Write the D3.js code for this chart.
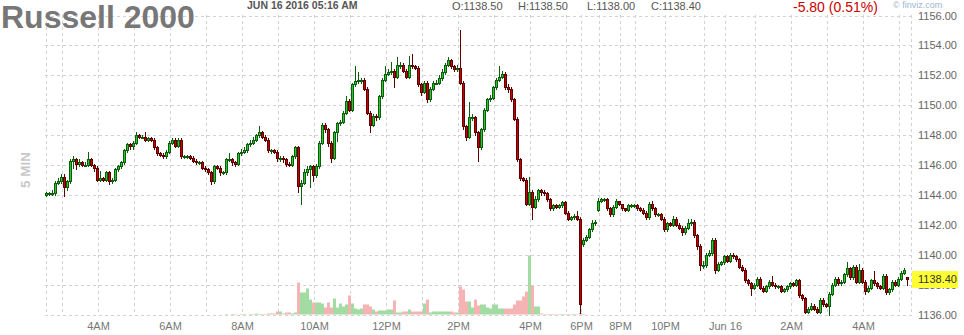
<!DOCTYPE html>
<html>
<head>
<meta charset="utf-8">
<script src="https://cdn.jsdelivr.net/npm/d3@7"></script>
<style>
  body { margin: 0; background: #fff; }
  svg { display: block; font-family: "Liberation Sans", Arial, sans-serif; }
</style>
</head>
<body>
<div id="chart"></div>
<script>
// 5 min bars, Russell 2000 futures, Jun 15 ~2:30AM -> Jun 16 5:15AM
var closes = [
  1144.1,1144.1,1144.1,1144.8,1144.9,1145.2,1144.5,1144.9,1146.3,1146.4,1146.1,1146.2,
  1146.0,1146.0,1146.4,1146.0,1145.8,1145.0,1145.1,1145.0,1145.5,1144.9,1145.0,1145.7,
  1145.9,1146.2,1147.0,1147.4,1147.3,1147.5,1148.0,1147.9,1147.9,1147.7,1147.8,1147.7,
  1147.2,1146.8,1146.7,1146.6,1146.9,1147.5,1147.7,1147.3,1147.7,1146.6,1146.6,1146.6,
  1146.5,1146.3,1146.2,1146.2,1145.8,1145.7,1145.5,1144.9,1145.9,1145.8,1145.5,1145.5,
  1146.4,1146.4,1146.2,1146.1,1146.8,1146.9,1147.0,1147.4,1147.5,1147.7,1148.0,1148.2,
  1147.9,1147.7,1147.0,1147.0,1146.9,1146.5,1146.5,1146.4,1146.1,1146.0,1146.6,1147.2,
  1144.6,1144.8,1145.5,1145.7,1145.9,1145.3,1145.9,1147.5,1148.7,1148.4,1147.5,1146.5,
  1148.2,1148.8,1148.9,1149.5,1150.3,1149.7,1151.4,1151.6,1151.7,1151.7,1151.1,1149.5,
  1148.7,1149.3,1149.2,1150.6,1151.7,1152.1,1152.2,1152.3,1151.9,1152.7,1152.7,1152.3,
  1151.9,1152.7,1152.6,1152.5,1151.4,1150.9,1151.5,1150.4,1151.1,1151.5,1151.5,1151.8,
  1152.2,1152.7,1153.0,1152.6,1152.4,1152.5,1151.5,1148.6,1147.9,1149.2,1149.2,1148.2,
  1147.2,1148.4,1149.7,1150.4,1150.5,1151.2,1151.7,1151.9,1152.1,1151.2,1151.1,1150.4,
  1149.1,1146.4,1145.1,1145.0,1143.4,1144.2,1143.2,1143.7,1144.3,1144.2,1144.1,1143.7,
  1143.1,1143.3,1143.2,1143.3,1143.5,1142.8,1142.4,1142.5,1142.6,1142.4,1136.7,1141.0,
  1141.2,1141.7,1142.1,1142.2,1143.6,1143.7,1143.7,1143.1,1142.7,1143.2,1143.6,1143.4,
  1143.1,1143.0,1143.3,1143.3,1143.3,1143.1,1143.0,1142.8,1142.5,1143.4,1143.1,1142.7,
  1142.7,1142.4,1141.7,1142.1,1142.0,1142.4,1142.0,1141.8,1141.5,1141.8,1142.1,1142.2,
  1141.3,1140.6,1139.3,1139.3,1140.0,1140.1,1141.0,1139.0,1139.4,1139.5,1139.9,1139.6,
  1140.0,1139.9,1139.7,1139.2,1139.0,1138.3,1138.1,1137.8,1138.0,1138.4,1137.8,1137.6,
  1137.9,1138.2,1138.0,1137.9,1137.9,1137.6,1137.7,1137.9,1138.1,1138.0,1138.3,1137.3,
  1137.1,1136.2,1136.4,1136.6,1136.4,1136.2,1137.0,1136.7,1136.6,1137.4,1138.0,1138.4,
  1138.1,1138.2,1138.7,1139.1,1138.5,1139.2,1138.2,1139.0,1138.2,1137.6,1137.8,1138.3,
  1138.1,1137.9,1137.8,1138.6,1137.5,1137.7,1138.2,1138.0,1138.4,1138.8,1139.0,1138.4
];

var highs = [
  1144.2,1144.2,1144.3,1144.9,1145.1,1145.4,1145.4,1145.0,1146.4,1146.6,1146.5,1146.4,
  1146.3,1146.2,1146.9,1146.5,1146.1,1145.9,1145.6,1145.2,1145.6,1145.6,1145.1,1145.8,
  1146.0,1146.3,1147.1,1147.5,1147.5,1147.6,1148.2,1148.1,1148.0,1148.2,1147.9,1147.9,
  1147.8,1147.3,1146.9,1146.8,1147.0,1147.6,1147.8,1147.8,1147.8,1147.8,1146.7,1146.7,
  1146.7,1146.6,1146.4,1146.3,1146.3,1145.9,1145.8,1145.6,1146.0,1146.0,1145.9,1145.6,
  1146.5,1146.8,1146.5,1146.3,1146.9,1147.1,1147.2,1147.5,1147.7,1147.9,1148.1,1148.6,
  1148.3,1148.0,1147.8,1147.1,1147.1,1147.0,1146.6,1146.6,1146.5,1146.2,1146.7,1147.3,
  1147.3,1145.0,1145.7,1145.9,1146.0,1146.0,1146.1,1147.6,1148.8,1148.8,1148.5,1147.6,
  1148.3,1148.9,1149.0,1149.6,1150.6,1150.4,1151.5,1152.6,1152.2,1151.8,1151.8,1151.2,
  1149.6,1149.4,1149.4,1150.7,1151.8,1152.6,1152.4,1152.9,1152.4,1153.2,1152.9,1152.8,
  1152.4,1153.3,1153.4,1152.7,1152.6,1151.5,1151.6,1151.6,1151.2,1151.6,1151.7,1152.0,
  1152.4,1152.8,1153.2,1153.1,1152.7,1152.7,1155.0,1151.6,1148.7,1150.2,1149.4,1149.3,
  1148.3,1148.5,1149.8,1150.5,1150.7,1151.3,1151.8,1152.6,1152.3,1152.2,1151.4,1151.2,
  1150.5,1149.2,1146.5,1145.2,1145.1,1145.2,1144.3,1143.9,1144.4,1144.4,1144.3,1144.2,
  1143.8,1143.4,1143.4,1143.4,1143.6,1143.6,1142.9,1142.6,1142.7,1142.9,1142.5,1141.1,
  1141.3,1141.8,1142.3,1142.3,1143.8,1143.8,1143.8,1143.8,1143.2,1143.3,1143.7,1143.6,
  1143.4,1143.1,1143.4,1143.4,1143.4,1143.4,1143.2,1143.1,1142.9,1143.5,1143.6,1143.2,
  1142.8,1142.8,1142.5,1142.2,1142.2,1142.6,1142.5,1142.1,1141.9,1141.9,1142.4,1142.4,
  1142.3,1141.4,1140.7,1139.6,1140.1,1140.3,1141.1,1141.1,1139.5,1139.6,1140.0,1140.0,
  1140.1,1140.1,1140.0,1139.8,1139.3,1139.1,1138.4,1138.2,1138.1,1138.5,1138.5,1137.9,
  1138.0,1138.3,1138.6,1138.1,1138.0,1138.0,1137.8,1138.0,1138.2,1138.2,1138.4,1138.4,
  1137.4,1137.2,1136.5,1136.8,1136.7,1136.5,1137.1,1137.1,1136.8,1137.5,1138.1,1138.5,
  1138.5,1138.3,1138.8,1139.5,1139.2,1139.3,1139.3,1139.4,1139.1,1138.3,1137.9,1138.4,
  1138.9,1138.2,1138.0,1138.7,1138.7,1137.8,1138.3,1138.3,1138.5,1138.9,1139.1,1138.5
];

var lows = [
  1143.9,1144.0,1144.0,1144.0,1144.7,1144.8,1143.9,1144.3,1144.8,1145.8,1145.7,1145.9,
  1145.9,1145.9,1145.9,1145.9,1145.6,1144.9,1144.9,1144.9,1144.9,1144.7,1144.8,1144.9,
  1145.6,1145.8,1146.1,1146.9,1147.1,1147.1,1147.4,1147.8,1147.8,1147.6,1147.6,1147.6,
  1147.1,1146.7,1146.6,1146.5,1146.5,1146.8,1147.4,1147.2,1147.2,1146.5,1146.5,1146.5,
  1146.4,1146.2,1146.1,1146.1,1145.7,1145.6,1145.4,1144.7,1144.8,1145.7,1145.3,1145.4,
  1145.4,1146.3,1146.0,1145.9,1146.0,1146.7,1146.8,1146.9,1147.3,1147.4,1147.6,1147.9,
  1147.8,1147.6,1146.9,1146.8,1146.8,1146.3,1146.3,1146.2,1145.9,1145.9,1145.9,1146.5,
  1144.2,1143.4,1144.7,1145.3,1144.5,1144.9,1145.2,1145.8,1147.4,1148.2,1147.3,1146.2,
  1146.4,1147.6,1148.7,1148.8,1149.4,1149.6,1149.6,1151.3,1151.5,1151.5,1151.0,1149.4,
  1148.2,1148.6,1149.0,1149.1,1150.5,1151.6,1152.0,1152.1,1151.2,1151.8,1152.5,1152.2,
  1151.8,1151.8,1152.5,1152.4,1151.3,1150.7,1150.8,1150.2,1150.3,1151.0,1151.4,1151.4,
  1151.7,1152.1,1152.6,1152.5,1152.3,1152.3,1151.4,1148.4,1147.7,1147.8,1149.0,1148.0,
  1146.3,1147.1,1148.3,1149.6,1150.3,1150.4,1151.1,1151.6,1151.8,1151.1,1150.9,1150.3,
  1149.0,1146.3,1145.0,1144.9,1143.3,1143.3,1142.4,1143.1,1143.6,1144.0,1144.0,1143.6,
  1143.0,1143.0,1143.1,1143.1,1143.2,1142.7,1142.3,1142.3,1142.4,1142.3,1136.1,1140.6,
  1140.9,1141.1,1141.6,1142.0,1142.9,1143.5,1143.6,1143.0,1142.6,1142.6,1143.1,1143.3,
  1143.0,1142.9,1142.9,1143.2,1143.2,1143.0,1142.9,1142.7,1142.4,1142.4,1143.0,1142.6,
  1142.6,1142.3,1141.6,1141.6,1141.9,1141.9,1141.9,1141.7,1141.3,1141.4,1141.7,1142.0,
  1141.2,1140.4,1139.0,1139.1,1139.2,1139.9,1140.0,1138.8,1138.9,1139.3,1139.4,1139.5,
  1139.5,1139.8,1139.6,1139.1,1138.9,1138.2,1138.0,1137.3,1137.7,1137.9,1137.7,1137.5,
  1137.5,1137.8,1137.9,1137.8,1137.8,1137.5,1137.5,1137.6,1137.8,1137.9,1137.9,1137.2,
  1137.0,1136.1,1136.1,1136.3,1136.3,1136.1,1136.1,1136.6,1136.5,1136.0,1137.3,1137.9,
  1138.0,1138.0,1138.1,1138.6,1138.4,1138.4,1138.1,1138.1,1138.1,1137.4,1137.5,1137.7,
  1138.0,1137.8,1137.7,1137.7,1137.4,1137.4,1137.6,1137.9,1137.9,1138.3,1138.7,1138.0
];

// bars whose open is not the previous close: [index, open]
var gapOpens = [[0, 1144.0], [179, 1140.7], [184, 1143.0], [287, 1138.5]];

var volumes = [
  0,0,0,0,0,0,0,0,0,0,0,0,
  0,0,0,0,0,0,0,0,0,0,0,0,
  0,0,0,0,0,0,0,0,0,0,0,0,
  0,0,0,0,0,0,0,0,0,0,0,0,
  0,0,0,0,0,0,0,0,0,0,0,0,
  10,0,10,10,0,10,10,0,10,10,20,10,
  10,10,20,20,20,60,60,20,40,40,20,40,
  640,440,440,520,300,240,240,240,220,140,240,140,
  320,140,220,160,200,380,220,120,100,120,200,200,
  160,100,60,80,80,80,100,100,280,40,40,60,
  60,100,60,60,60,60,220,300,40,60,60,60,
  60,60,60,60,40,40,560,500,260,260,140,300,
  180,200,200,140,120,200,200,120,120,120,120,120,
  200,280,280,360,460,1180,580,160,160,20,10,10,
  10,10,10,10,10,10,10,10,10,10,30,10,
  0,0,0,0,0,0,0,0,0,0,0,0,
  0,0,0,0,0,0,0,0,0,0,0,0,
  0,0,0,0,0,0,0,0,0,0,0,0,
  0,0,0,0,0,0,0,0,0,0,0,0,
  0,0,0,0,0,0,0,0,0,0,0,0,
  0,0,0,0,0,0,0,0,0,0,0,0,
  0,0,0,0,0,0,0,0,0,0,0,0,
  0,0,0,0,0,0,0,0,0,0,0,0,
  0,0,0,0,0,0,0,0,0,0,0,0
];

// bar index where each hour starts (vertical grid)
var hourIdx = [5,17,29,41,53,65,77,89,101,113,125,137,149,161,173,178,184,191,196,206,219,226,236,248,260,272,284];
var labelIdx = [17,41,65,89,113,137,161,178,191,206,226,248,272];
var labelText = ["4AM","6AM","8AM","10AM","12PM","2PM","4PM","6PM","8PM","10PM","Jun 16","2AM","4AM"];
var priceTicks = [1136,1138,1140,1142,1144,1146,1148,1150,1152,1154,1156];
var quote = { date: "JUN 16 2016 05:16 AM", o: "1138.50", h: "1138.50", l: "1138.00", c: "1138.40", change: "-5.80 (0.51%)" };
var lastPrice = 1138.40;

var w = 964, h = 335;

var svg = d3.select("#chart").append("svg")
    .attr("width", w)
    .attr("height", h);

var x = d3.scaleLinear().domain([0, closes.length - 1]).range([46.5, 907.5]);
var y = d3.scaleLinear().domain([1136, 1156]).range([314.5, 15.5]);

var bars = closes.map(function(c, i) {
    return { i: i, o: i > 0 ? closes[i - 1] : c, h: highs[i], l: lows[i], c: c, v: volumes[i] };
});
gapOpens.forEach(function(g) { bars[g[0]].o = g[1]; });

var vol = d3.scaleLinear().domain([0, d3.max(volumes)]).range([0, 59]);

//grid
var grid = svg.append("g").attr("stroke", "#d2d2d2").attr("stroke-dasharray", "3,3");
grid.selectAll(".hgrid").data(priceTicks).enter().append("line")
    .attr("x1", 45).attr("x2", 912)
    .attr("y1", function(d) { return Math.round(y(d)) + 0.5; })
    .attr("y2", function(d) { return Math.round(y(d)) + 0.5; });
grid.selectAll(".vgrid").data([-0.5].concat(hourIdx).concat([288])).enter().append("line")
    .attr("x1", function(d) { return Math.floor(x(d)) + 1.5; })
    .attr("x2", function(d) { return Math.floor(x(d)) + 1.5; })
    .attr("y1", 15).attr("y2", 315);

//volume
svg.append("g").selectAll("rect").data(bars.filter(function(d) { return d.v > 0; })).enter().append("rect")
    .attr("x", function(d) { return x(d.i) - 1.5; })
    .attr("width", 3)
    .attr("y", function(d) { return 314.5 - vol(d.v); })
    .attr("height", function(d) { return vol(d.v); })
    .attr("fill", function(d) { return d.c >= d.o ? "#a3dca3" : "#f6b3b3"; });

//candles
var candles = svg.append("g").selectAll("g").data(bars).enter().append("g");
candles.append("line")
    .attr("x1", function(d) { return x(d.i); })
    .attr("x2", function(d) { return x(d.i); })
    .attr("y1", function(d) { return Math.round(y(d.h)); })
    .attr("y2", function(d) { return Math.round(y(d.l)) + 1; })
    .attr("stroke", function(d) { return d.c >= d.o ? "#0b5e0b" : "#5e0000"; });
candles.append("rect")
    .attr("x", function(d) { return x(d.i) - 1; })
    .attr("width", 2)
    .attr("y", function(d) { return Math.round(y(Math.max(d.o, d.c))) + 0.5; })
    .attr("height", function(d) {
        return Math.max(1, Math.round(y(Math.min(d.o, d.c))) - Math.round(y(Math.max(d.o, d.c))));
    })
    .attr("fill", function(d) { return d.c >= d.o ? "#2fc42f" : "#c40000"; })
    .attr("stroke", function(d) { return d.c >= d.o ? "#0b5e0b" : "#5e0000"; })
    .attr("stroke-width", 1);

//price axis, the label under the last price box only peeks out below it
var boxY = Math.round(y(lastPrice)) - 8;
svg.append("clipPath").attr("id", "underBox")
    .append("rect").attr("x", 900).attr("y", boxY + 17).attr("width", 64).attr("height", 40);
svg.append("g").selectAll("text").data(priceTicks).enter().append("text")
    .attr("x", 918)
    .attr("y", function(d) { return y(d) + 4; })
    .attr("font-size", 11)
    .attr("fill", "#666")
    .attr("clip-path", function(d) { return Math.abs(y(d) - y(lastPrice)) < 12 ? "url(#underBox)" : null; })
    .text(function(d) { return d.toFixed(2); });

svg.append("rect")
    .attr("x", 912).attr("y", boxY)
    .attr("width", 46).attr("height", 17)
    .attr("fill", "#ffff33");
svg.append("text")
    .attr("x", 918).attr("y", Math.round(y(lastPrice)) + 4)
    .attr("font-size", 11).attr("fill", "#333")
    .text(lastPrice.toFixed(2));

//time axis
svg.append("g").selectAll("text").data(labelIdx).enter().append("text")
    .attr("x", function(d) { return x(d) + 1; })
    .attr("y", 330)
    .attr("text-anchor", "middle")
    .attr("font-size", 11)
    .attr("fill", "#777")
    .text(function(d, i) { return labelText[i]; });

//header
svg.append("text").attr("x", 1).attr("y", 28)
    .attr("font-size", 32).attr("font-weight", "bold").attr("fill", "#777")
    .text("Russell 2000");
svg.append("text").attr("x", 247).attr("y", 9)
    .attr("font-size", 10.5).attr("font-weight", "bold").attr("fill", "#555")
    .text(quote.date);
var ohlc = [["O:", quote.o, 452], ["H:", quote.h, 518], ["L:", quote.l, 587], ["C:", quote.c, 651]];
svg.append("g").selectAll("text").data(ohlc).enter().append("text")
    .attr("x", function(d) { return d[2]; })
    .attr("y", 10)
    .attr("font-size", 11).attr("fill", "#555")
    .text(function(d) { return d[0] + d[1]; });
svg.append("text").attr("x", 793).attr("y", 12)
    .attr("font-size", 14).attr("fill", "#cc0000")
    .text(quote.change);
svg.append("text").attr("x", 893).attr("y", 8)
    .attr("font-size", 9).attr("fill", "#9bb4cc")
    .text("\u00a9 finviz.com");
svg.append("text")
    .attr("transform", "translate(30,170) rotate(-90)")
    .attr("text-anchor", "middle")
    .attr("font-size", 13.5).attr("font-weight", "bold").attr("fill", "#c8c8c8")
    .text("5 MIN");
</script>
</body>
</html>
